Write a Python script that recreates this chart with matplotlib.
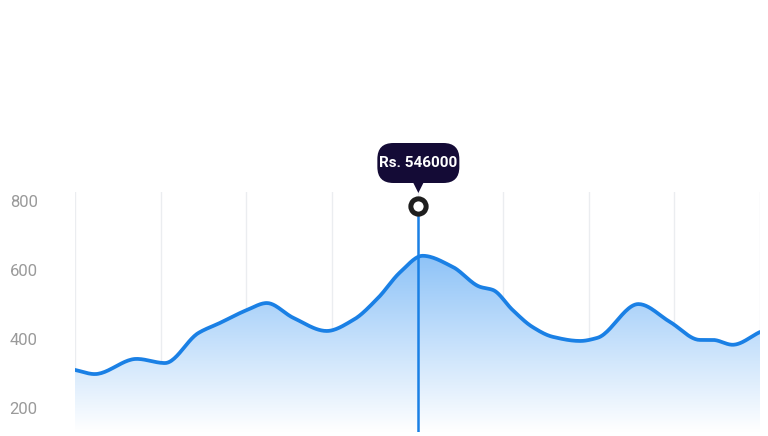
import numpy as np
import matplotlib
matplotlib.use("Agg")
import matplotlib.pyplot as plt
from matplotlib.patches import FancyBboxPatch, Polygon

# values (x in grid-column units, 0..8)
x_pos = [0.0, 0.23, 0.72, 1.05, 1.44, 1.69, 2.01, 2.24, 2.55, 2.94,
         3.25, 3.54, 3.80, 4.06, 4.41, 4.73, 4.88, 5.11, 5.34, 5.58,
         5.90, 6.10, 6.58, 6.95, 7.30, 7.45, 7.68, 8.0]
y_val = [310, 298, 342, 330, 417, 446, 484, 504, 461, 423,
         455, 519, 594, 641, 609, 551, 542, 484, 435, 406,
         394, 403, 501, 449, 397, 397, 383, 420]
y_ticks = [200, 400, 600, 800]
cursor_x = 4.01
tooltip_text = "Rs. 546000"

line_color = "#1a80e5"
tip_color = "#140b36"


def monotone(xs, ys, n=25):
    # Fritsch-Carlson monotone cubic, for the smooth look of the original line
    xs = np.asarray(xs, float)
    ys = np.asarray(ys, float)
    h = np.diff(xs)
    d = np.diff(ys) / h
    m = np.zeros_like(ys)
    m[0], m[-1] = d[0], d[-1]
    for i in range(1, len(xs) - 1):
        if d[i - 1] * d[i] <= 0:
            m[i] = 0
        else:
            w1 = 2 * h[i] + h[i - 1]
            w2 = h[i] + 2 * h[i - 1]
            m[i] = (w1 + w2) / (w1 / d[i - 1] + w2 / d[i])
    ox, oy = [], []
    t = np.linspace(0, 1, n, endpoint=False)
    for i in range(len(xs) - 1):
        h00 = 2 * t ** 3 - 3 * t ** 2 + 1
        h10 = t ** 3 - 2 * t ** 2 + t
        h01 = -2 * t ** 3 + 3 * t ** 2
        h11 = t ** 3 - t ** 2
        ox.extend(xs[i] + t * h[i])
        oy.extend(h00 * ys[i] + h10 * h[i] * m[i] + h01 * ys[i + 1] + h11 * h[i] * m[i + 1])
    ox.append(xs[-1])
    oy.append(ys[-1])
    return np.array(ox), np.array(oy)


plt.rcParams['font.family'] = ['Roboto', 'DejaVu Sans']

fig = plt.figure(figsize=(7.68, 4.36), dpi=100)
ax = fig.add_axes([75 / 768, 4 / 436, 685 / 768, 240 / 436])
ymin, ymax = 130, 826
ax.set_xlim(0, 8)
ax.set_ylim(ymin, ymax)

sx, sy = monotone(x_pos, y_val)

# gradient fill under the curve
g = np.linspace(0, 1, 256)[:, None]
top = np.array([0.55, 0.76, 0.97])
bot = np.array([1.0, 1.0, 1.0])
img = np.ones((256, 1, 4))
img[:, 0, :3] = top * (1 - g) + bot * g
im = ax.imshow(img, extent=[0, 8, ymin, 650], aspect="auto", origin="upper", zorder=1)
poly = Polygon(np.column_stack([np.r_[sx, 8, 0], np.r_[sy, ymin, ymin]]),
               closed=True, transform=ax.transData, facecolor="none", edgecolor="none")
ax.add_patch(poly)
im.set_clip_path(poly)

for gx in range(9):
    ax.axvline(gx, color="#ebedf0", lw=1, zorder=0)

ax.plot(sx, sy, color=line_color, lw=2.7, zorder=3, solid_capstyle="round")

# cursor line + marker
ax.plot([cursor_x, cursor_x], [ymin, 786], color=line_color, lw=1.8, zorder=4)
ax.plot([cursor_x], [786], marker="o", ms=11, mfc="white", mec="#1e1e1e", mew=3.6, zorder=6,
        clip_on=False)

ax.set_yticks(y_ticks)
ax.set_xticks([])
ax.tick_params(axis="y", length=0, pad=47, labelsize=12, labelcolor="#9a9a9a")
for lab in ax.get_yticklabels():
    lab.set_horizontalalignment("left")
for s in ax.spines.values():
    s.set_visible(False)

# tooltip bubble (figure pixel coords)
cx = 75 + cursor_x * 685 / 8
ptrans = fig.dpi_scale_trans


def px(x, y):
    return (x / 100, (436 - y) / 100)


box = FancyBboxPatch(px(cx - 39, 181), 78 / 100, 36 / 100,
                     boxstyle="round,pad=0.02,rounding_size=0.16",
                     transform=ptrans, facecolor=tip_color, edgecolor="none", zorder=10)
fig.patches.append(box)
tri = Polygon([px(cx - 6, 181), px(cx + 6, 181), px(cx, 193)], closed=True,
              transform=ptrans, facecolor=tip_color, edgecolor="none", zorder=10)
fig.patches.append(tri)
fig.text(cx / 768, 1 - 163 / 436, tooltip_text, color="white", fontsize=11,
         fontweight="bold", ha="center", va="center", zorder=20)

fig.savefig("out.png", dpi=100)
